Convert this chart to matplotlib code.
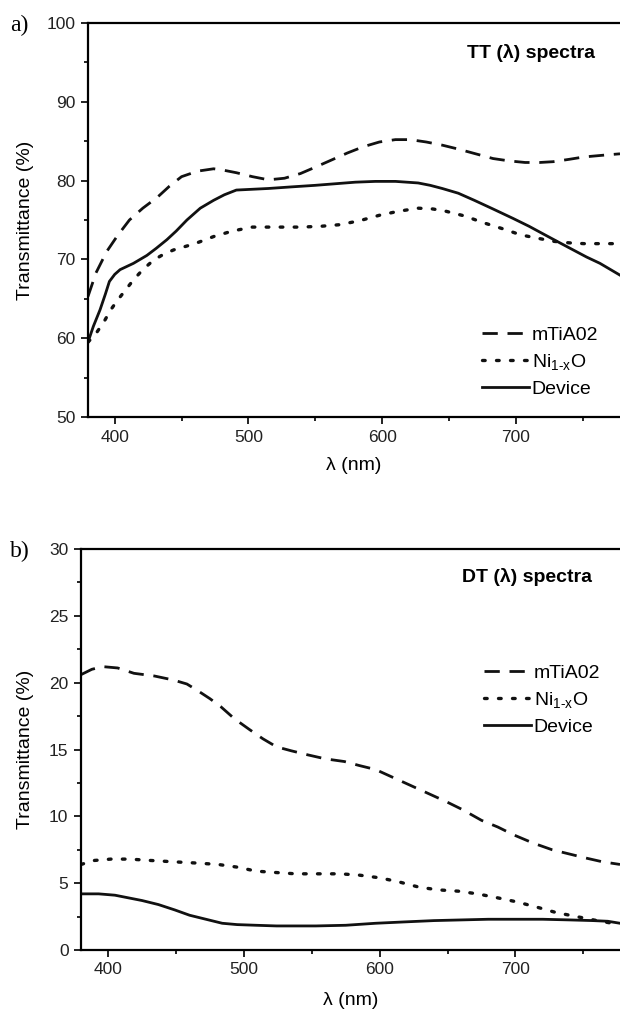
import matplotlib
matplotlib.use("Agg")
import matplotlib.pyplot as plt
from matplotlib.ticker import MultipleLocator

plt.rcParams["font.family"] = ["Liberation Sans", "DejaVu Sans"]
plt.rcParams["mathtext.default"] = "regular"

# --- panel a: total transmittance TT(lambda) ---
tt_mtia_x = [380, 386, 394, 402, 411, 421, 432, 441, 450, 462, 474, 482, 491, 503, 515, 527,
             539, 550, 562, 574, 586, 598, 610, 621, 633, 645, 657, 670, 683, 695, 707, 718,
             728, 740, 751, 764, 778]
tt_mtia_y = [65.3, 68.3, 71.0, 73.0, 75.0, 76.5, 77.9, 79.3, 80.5, 81.2, 81.5, 81.3, 81.0, 80.5,
             80.1, 80.3, 80.9, 81.7, 82.6, 83.5, 84.3, 84.9, 85.2, 85.2, 84.9, 84.5, 84.0,
             83.4, 82.8, 82.5, 82.3, 82.3, 82.4, 82.7, 83.0, 83.2, 83.4]

tt_nio_x = [380, 386, 392, 397, 402, 408, 414, 421, 429, 436, 444, 452, 460, 474, 488, 503,
            521, 539, 554, 568, 583, 598, 612, 627, 638, 648, 662, 675, 690, 704, 716, 728,
            740, 751, 764, 778]
tt_nio_y = [59.5, 60.6, 62.1, 63.6, 64.8, 66.1, 67.4, 68.7, 69.9, 70.6, 71.2, 71.6, 72.0, 72.9,
            73.6, 74.1, 74.1, 74.1, 74.2, 74.4, 74.9, 75.6, 76.1, 76.5, 76.4, 76.1, 75.5,
            74.7, 73.9, 73.1, 72.7, 72.3, 72.1, 72.0, 72.0, 72.0]

tt_dev_x = [380, 384, 389, 393, 396, 400, 404, 409, 414, 419, 424, 431, 439, 446, 454, 464,
            474, 482, 491, 503, 515, 532, 550, 565, 580, 595, 610, 627, 636, 645, 657, 669,
            683, 698, 710, 722, 733, 743, 753, 763, 770, 778]
tt_dev_y = [59.5, 61.5, 63.6, 65.6, 67.2, 68.1, 68.7, 69.1, 69.5, 70.0, 70.5, 71.4, 72.5, 73.6,
            75.0, 76.5, 77.5, 78.2, 78.8, 78.9, 79.0, 79.2, 79.4, 79.6, 79.8, 79.9, 79.9,
            79.7, 79.4, 79.0, 78.4, 77.5, 76.4, 75.2, 74.2, 73.1, 72.1, 71.2, 70.3, 69.5,
            68.8, 68.0]

# --- panel b: diffuse transmittance DT(lambda) ---
dt_mtia_x = [380, 388, 396, 407, 419, 434, 448, 458, 466, 475, 483, 493, 504, 514, 524, 535,
             547, 560, 574, 585, 597, 610, 623, 636, 649, 661, 675, 687, 699, 713, 727, 739,
             751, 764, 777]
dt_mtia_y = [20.6, 21.0, 21.2, 21.1, 20.7, 20.5, 20.2, 19.9, 19.4, 18.8, 18.2, 17.3, 16.5,
             15.8, 15.2, 14.9, 14.6, 14.3, 14.1, 13.8, 13.5, 12.9, 12.3, 11.7, 11.1, 10.5,
             9.7, 9.2, 8.6, 8.0, 7.5, 7.2, 6.9, 6.6, 6.4]

dt_nio_x = [380, 390, 402, 416, 431, 448, 466, 481, 495, 509, 523, 538, 554, 571, 585, 600,
            614, 629, 643, 658, 672, 687, 701, 716, 730, 745, 760, 777]
dt_nio_y = [6.4, 6.7, 6.8, 6.8, 6.7, 6.6, 6.5, 6.4, 6.2, 5.9, 5.8, 5.7, 5.7, 5.7, 5.6, 5.4,
            5.1, 4.7, 4.5, 4.4, 4.2, 3.9, 3.6, 3.2, 2.8, 2.5, 2.2, 1.9]

dt_dev_x = [380, 393, 405, 415, 425, 437, 449, 460, 472, 484, 495, 509, 524, 538, 553, 575,
            597, 618, 640, 660, 680, 699, 720, 740, 757, 768, 777]
dt_dev_y = [4.2, 4.2, 4.1, 3.9, 3.7, 3.4, 3.0, 2.6, 2.3, 2.0, 1.9, 1.85, 1.8, 1.8, 1.8, 1.85,
            2.0, 2.1, 2.2, 2.25, 2.3, 2.3, 2.3, 2.25, 2.2, 2.15, 2.0]

labels = ["mTiA02", "Ni$_{1\u2011x}$O", "Device"]

W, H = 620, 1014
fig = plt.figure(figsize=(W / 100, H / 100), dpi=100)

dash = (0, (5.5, 3.5))
dots = (0, (0.8, 3.4))
ink = "#111111"


def px_axes(left, top, right, bottom):
    return fig.add_axes([left / W, 1 - bottom / H, (right - left) / W, (bottom - top) / H])


def style(ax, xlim, ylim, ymaj, ymin, ylab_x, xlab_y):
    ax.set_xlim(*xlim)
    ax.set_ylim(*ylim)
    ax.xaxis.set_major_locator(MultipleLocator(100))
    ax.xaxis.set_minor_locator(MultipleLocator(50))
    ax.yaxis.set_major_locator(MultipleLocator(ymaj))
    ax.yaxis.set_minor_locator(MultipleLocator(ymin))
    ax.spines["right"].set_visible(False)
    for s in ("left", "bottom", "top"):
        ax.spines[s].set_linewidth(1.6)
    ax.tick_params(which="both", direction="out", top=False, right=False,
                   labelsize=12.5, width=1.4, colors="#222222")
    ax.tick_params(which="major", length=5, pad=4)
    ax.tick_params(which="minor", length=3)
    ax.set_xlabel("\u03bb (nm)", fontsize=14)
    ax.set_ylabel("Transmittance (%)", fontsize=14)
    ax.yaxis.set_label_coords(ylab_x, 0.5)
    ax.xaxis.set_label_coords(0.5, xlab_y)


def legend(ax, x, y):
    ax.legend(loc="upper left", bbox_to_anchor=(x / W, 1 - y / H),
              bbox_transform=fig.transFigure, frameon=False, fontsize=14,
              handlelength=2.4, handletextpad=0.15, labelspacing=0.42,
              borderpad=0, borderaxespad=0)


# panel a
ax1 = px_axes(88, 23, 620, 417)
ax1.plot(tt_mtia_x, tt_mtia_y, color=ink, lw=2.0, linestyle=dash, label=labels[0])
ax1.plot(tt_nio_x, tt_nio_y, color=ink, lw=2.4, linestyle=dots,
         dash_capstyle="round", label=labels[1])
ax1.plot(tt_dev_x, tt_dev_y, color=ink, lw=2.0, label=labels[2])
style(ax1, (380, 778), (50, 100), 10, 5, -0.101, -0.102)
ax1.text(0.953, 0.925, "TT (\u03bb) spectra", transform=ax1.transAxes, ha="right",
         va="center", fontsize=14, fontweight="bold")
legend(ax1, 482, 326)
fig.text(10 / W, 1 - 25 / H, "a)", family=["Liberation Serif"], fontsize=17,
         ha="left", va="center")

# panel b
ax2 = px_axes(81, 549, 620, 950)
ax2.plot(dt_mtia_x, dt_mtia_y, color=ink, lw=2.0, linestyle=dash, label=labels[0])
ax2.plot(dt_nio_x, dt_nio_y, color=ink, lw=2.4, linestyle=dots,
         dash_capstyle="round", label=labels[1])
ax2.plot(dt_dev_x, dt_dev_y, color=ink, lw=2.0, label=labels[2])
style(ax2, (380, 777), (0, 30), 5, 2.5, -0.087, -0.105)
ax2.text(0.948, 0.93, "DT (\u03bb) spectra", transform=ax2.transAxes, ha="right",
         va="center", fontsize=14, fontweight="bold")
legend(ax2, 484, 664)
fig.text(10 / W, 1 - 551 / H, "b)", family=["Liberation Serif"], fontsize=17,
         ha="left", va="center")

fig.savefig("out.png", dpi=100)
